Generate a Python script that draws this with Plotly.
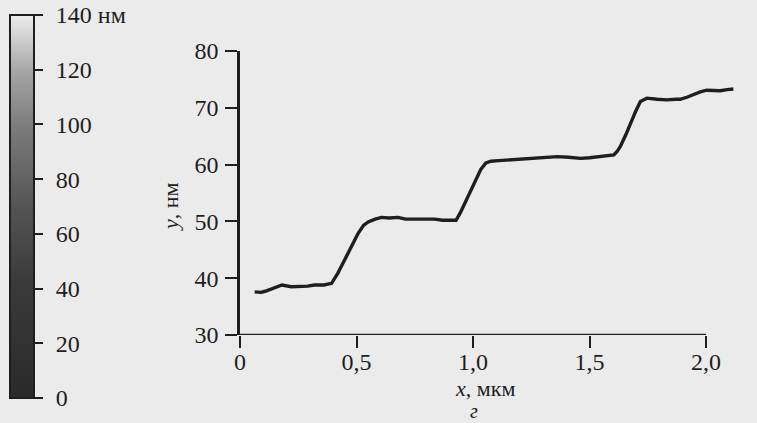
import plotly.graph_objects as go

# profile data (x in мкм, y in нм)
x_um = [0.063, 0.09, 0.108, 0.14, 0.18, 0.22, 0.25, 0.29, 0.32, 0.36, 0.393, 0.405, 0.42, 0.44, 0.465,
        0.485, 0.507, 0.53, 0.55, 0.58, 0.607, 0.64, 0.678, 0.71, 0.749, 0.79, 0.835, 0.87, 0.9, 0.927,
        0.945, 0.963, 0.985, 1.006, 1.02, 1.034, 1.055, 1.077, 1.11, 1.148, 1.2, 1.25, 1.29, 1.33, 1.362,
        1.41, 1.462, 1.5, 1.533, 1.57, 1.604, 1.618, 1.632, 1.655, 1.675, 1.698, 1.718, 1.746, 1.79, 1.832,
        1.87, 1.889, 1.92, 1.946, 1.975, 2.003, 2.03, 2.06, 2.09, 2.117]
y_nm = [37.6, 37.5, 37.7, 38.2, 38.8, 38.5, 38.5, 38.6, 38.8, 38.8, 39.1, 39.8, 40.9, 42.5, 44.4,
        46.0, 47.9, 49.3, 49.9, 50.4, 50.7, 50.6, 50.7, 50.4, 50.4, 50.5, 50.4, 50.2, 50.2, 50.2,
        51.5, 53.0, 55.0, 56.7, 58.0, 59.2, 60.3, 60.6, 60.7, 60.8, 61.0, 61.2, 61.3, 61.4, 61.4,
        61.3, 61.1, 61.2, 61.4, 61.5, 61.7, 62.3, 63.2, 65.2, 67.3, 69.4, 71.1, 71.7, 71.5, 71.4,
        71.5, 71.5, 71.9, 72.4, 72.8, 73.1, 73.0, 73.0, 73.2, 73.3]

x_tickvals = [0, 0.5, 1.0, 1.5, 2.0]
x_ticktext = ["0", "0,5", "1,0", "1,5", "2,0"]
y_tickvals = [30, 40, 50, 60, 70, 80]

# height colour bar
bar_levels = [0, 20, 40, 60, 80, 100, 120, 140]
bar_ticktext = ["0", "20", "40", "60", "80", "100", "120", "140 нм"]

W, H = 757, 423
ML, MR, MT, MB = 10, 22, 15, 25
PW, PH = W - ML - MR, H - MT - MB

def px(xp):
    return (xp - ML) / PW

def py(yp):
    return (H - MB - yp) / PH

INK = "#1e1e1e"
FONT = "Liberation Serif, Times New Roman, serif"
FS = 24

fig = go.Figure()

fig.add_trace(go.Heatmap(
    x=[0, 1], y=bar_levels, z=[[v, v] for v in bar_levels],
    zmin=0, zmax=140, zsmooth="best", showscale=False,
    colorscale=[[0, "#2a2a2a"], [0.3, "#3a3a3a"], [0.5, "#545454"], [0.7, "#7a7a7a"],
                [0.85, "#a4a4a4"], [1, "#ececec"]],
    xaxis="x2", yaxis="y2", hoverinfo="skip"))

fig.add_trace(go.Scatter(
    x=x_um, y=y_nm, mode="lines",
    line=dict(color=INK, width=3.4), showlegend=False, cliponaxis=False))

fig.update_layout(
    width=W, height=H,
    margin=dict(l=ML, r=MR, t=MT, b=MB, autoexpand=False),
    paper_bgcolor="#ebebeb", plot_bgcolor="rgba(0,0,0,0)",
    font=dict(family=FONT, size=FS, color=INK),
    showlegend=False,
    xaxis=dict(domain=[px(240), 1.0], range=[0, 2.124], showgrid=False, zeroline=False,
               showline=False, ticks="outside", ticklen=12, tickwidth=2, tickcolor=INK,
               tickvals=x_tickvals, ticktext=x_ticktext, ticklabelstandoff=-7,
               automargin=False,
               tickfont=dict(family=FONT, size=FS, color=INK), anchor="y"),
    yaxis=dict(domain=[py(335), py(51)], range=[30, 80], showgrid=False, zeroline=False,
               showline=True, linewidth=2.5, linecolor=INK, ticks="outside", ticklen=12,
               tickwidth=2, tickcolor=INK, tickvals=y_tickvals, ticklabelstandoff=2,
               automargin=False,
               tickfont=dict(family=FONT, size=FS, color=INK), anchor="x"),
    xaxis2=dict(domain=[0, px(34)], range=[0, 1], showgrid=False, zeroline=False,
                showline=False, showticklabels=False, ticks="", anchor="y2", automargin=False),
    yaxis2=dict(domain=[0, 1], range=[0, 140], showgrid=False, zeroline=False,
                showline=False, side="right", ticks="outside", ticklen=8, tickwidth=2,
                tickcolor=INK, tickvals=bar_levels, ticktext=bar_ticktext,
                ticklabelstandoff=8, automargin=False,
                tickfont=dict(family=FONT, size=FS, color=INK), anchor="x2"),
)

# x axis line (ends at 2.0)
fig.add_shape(type="line", xref="x", yref="y", x0=0, x1=x_tickvals[-1], y0=30, y1=30,
              line=dict(color=INK, width=2.5))
# colour bar frame
fig.add_shape(type="rect", xref="x2 domain", yref="y2 domain", x0=0, x1=1, y0=0, y1=1,
              line=dict(color=INK, width=2))

fig.add_annotation(x=px(485), y=py(388), xref="paper", yref="paper", showarrow=False,
                   xanchor="center", yanchor="middle",
                   text="<i>x</i>, мкм", font=dict(family=FONT, size=22, color=INK))
fig.add_annotation(x=px(170), y=py(207), xref="paper", yref="paper", showarrow=False,
                   xanchor="center", yanchor="middle",
                   text="<i>y</i>, нм", textangle=-90, font=dict(family=FONT, size=22, color=INK))
fig.add_annotation(x=px(474), y=py(411), xref="paper", yref="paper", showarrow=False,
                   xanchor="center", yanchor="middle",
                   text="<i>г</i>", font=dict(family=FONT, size=20, color=INK))

fig.write_html("out.html")
